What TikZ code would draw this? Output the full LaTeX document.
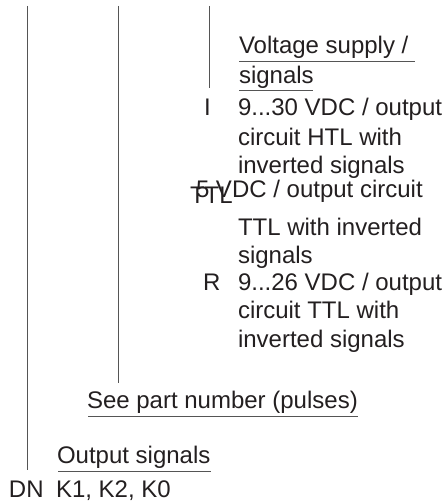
\documentclass[tikz,border=0pt]{standalone}
\usepackage{fontspec}
\setmainfont{Liberation Sans}
\definecolor{txt}{HTML}{231F20}
\definecolor{lead}{HTML}{555555}
\begin{document}
\begin{tikzpicture}[x=1pt,y=-1pt,
  lbl/.style={anchor=base west,inner sep=0pt,outer sep=0pt,text=txt,font=\fontsize{24}{29}\selectfont},
  leader/.style={draw=lead,line width=0.9pt},
  uline/.style={draw=lead,line width=0.9pt}]
\useasboundingbox (0,0) rectangle (446,503);
% leader lines
\coordinate (t1) at (27,6);   \coordinate (b1) at (27,470);
\coordinate (t2) at (118,6);  \coordinate (b2) at (118,383);
\coordinate (t3) at (209,6);  \coordinate (b3) at (209,88);
\draw[leader] (t1) -- (b1);
\draw[leader] (t2) -- (b2);
\draw[leader] (t3) -- (b3);
% header voltage supply
\node[lbl] (vs1) at (239,53) {Voltage supply /};
\node[lbl] (vs2) at (239,83) {signals};
\coordinate (u1a) at (239,61); \coordinate (u1b) at (415,61);
\coordinate (u2a) at (239,90); \coordinate (u2b) at (313,90);
\draw[uline] (u1a) -- (u1b);
\draw[uline] (u2a) -- (u2b);
% I
\node[lbl] (kI) at (204,115) {I};
\node[lbl] (dI1) at (238,115) {9...30 VDC / output};
\node[lbl] (dI2) at (238,145) {circuit HTL with};
\node[lbl] (dI3) at (238,173) {inverted signals};
% TTL
\node[lbl] (kT) at (190,203) {TTL};
\node[lbl] (dT1) at (196,197) {5 VDC / output circuit};
\node[lbl] (dT2) at (238,235) {TTL with inverted};
\node[lbl] (dT3) at (238,263) {signals};
% R
\node[lbl] (kR) at (203,290) {R};
\node[lbl] (dR1) at (238,290) {9...26 VDC / output};
\node[lbl] (dR2) at (238,318) {circuit TTL with};
\node[lbl] (dR3) at (238,347) {inverted signals};
% pulses
\node[lbl] (pn) at (87,408) {See part number (pulses)};
\coordinate (u3a) at (88,416); \coordinate (u3b) at (358,416);
\draw[uline] (u3a) -- (u3b);
% output signals
\node[lbl] (os) at (57,463) {Output signals};
\coordinate (u4a) at (58,471); \coordinate (u4b) at (211,471);
\draw[uline] (u4a) -- (u4b);
\node[lbl] (kDN) at (9,497) {DN};
\node[lbl] (dDN) at (56,497) {K1, K2, K0};
\end{tikzpicture}
\end{document}
